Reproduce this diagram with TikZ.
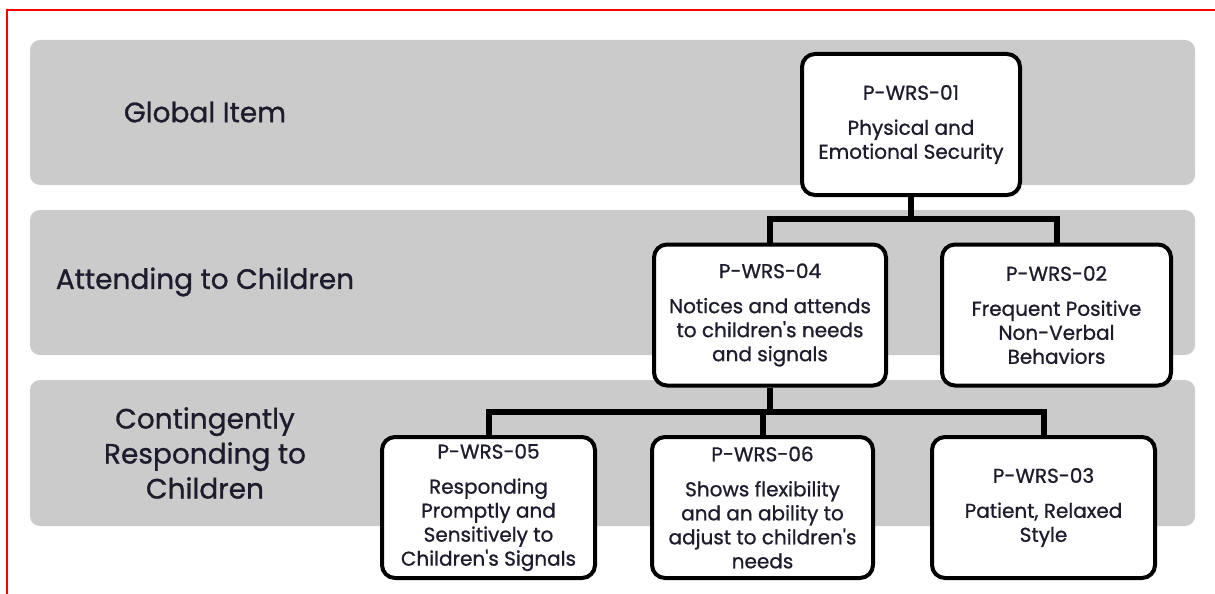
\documentclass[tikz,border=0pt]{standalone}
\usepackage{fontspec}
\setmainfont{Poppins}
\newfontfamily\medfont{Poppins}[FakeBold=0.9]
\usetikzlibrary{backgrounds}
\definecolor{bandgray}{RGB}{203,203,203}
\definecolor{textc}{RGB}{28,28,44}
\newcommand{\boxfnt}{\medfont\fontsize{20}{24}\selectfont}
\newcommand{\labfnt}{\medfont\fontsize{28}{35}\selectfont}
\newcommand{\apo}{\textquotesingle}
\begin{document}
\begin{tikzpicture}[x=1pt,y=-1pt,
  item/.style={draw=black, line width=4pt, fill=white, rounded corners=13pt,
    align=center, font=\boxfnt, text=textc, inner sep=0pt,
    minimum height=141pt},
  conn/.style={line width=6pt, draw=black},
  lab/.style={align=center, font=\labfnt, text=textc},
  band/.style={fill=bandgray, rounded corners=10pt}]
\useasboundingbox (0,0) rectangle (1215,594);

% labels
\node[lab] (l1) at (205,112) {Global Item};
\node[lab] (l2) at (205,282) {Attending to Children};
\node[lab] (l3) at (205,453) {Contingently\\Responding to\\Children};

% boxes
\node[item, minimum width=218pt] (b01) at (911,124.5)
  {P-WRS-01\\[11pt]Physical and\\Emotional Security};
\node[item, minimum width=232pt] (b04) at (770,315)
  {P-WRS-04\\[11pt]Notices and attends\\to children\apo s needs\\and signals};
\node[item, minimum width=229pt] (b02) at (1056.5,315)
  {P-WRS-02\\[11pt]Frequent Positive\\Non-Verbal\\Behaviors};
\node[item, minimum width=213pt] (b05) at (488.5,507.5)
  {P-WRS-05\\[11pt]Responding\\Promptly and\\Sensitively to\\Children\apo s Signals};
\node[item, minimum width=221pt] (b06) at (762.5,507.5)
  {P-WRS-06\\[11pt]Shows flexibility\\and an ability to\\adjust to children\apo s\\needs};
\node[item, minimum width=223pt] (b03) at (1043.5,507.5)
  {P-WRS-03\\[11pt]Patient, Relaxed\\Style};

\coordinate (bus1) at (0,219);
\coordinate (bus2) at (0,412);

\begin{scope}[on background layer]
  \fill[white] (0,0) rectangle (1215,594);
  \draw[red, line width=2pt] (1215,10) -- (7,10) -- (7,594);
  \path[band] (30,40) rectangle (1195,185);
  \path[band] (30,210) rectangle (1195,355);
  \path[band] (30,380) rectangle (1195,526);
  \draw[conn] (b01.south) -- (b01.south |- bus1);
  \draw[conn] (b04.north) |- (bus1 -| b02.north) -- (b02.north);
  \draw[conn] (b04.south) -- (b04.south |- bus2);
  \draw[conn] (b05.north) |- (bus2 -| b03.north) -- (b03.north);
  \draw[conn] (b06.north) -- (b06.north |- bus2);
\end{scope}
\end{tikzpicture}
\end{document}
